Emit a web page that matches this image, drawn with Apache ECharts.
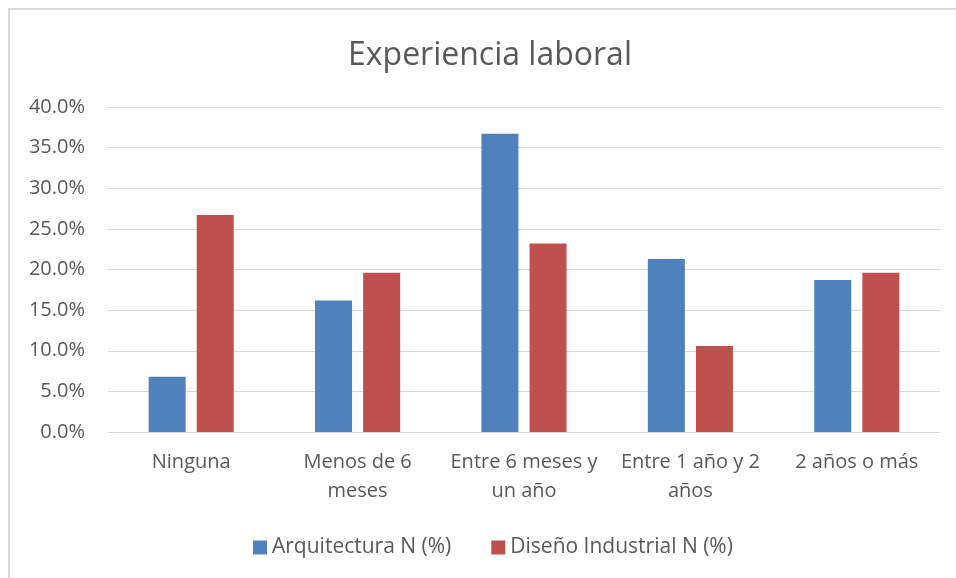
<!DOCTYPE html>
<html>
<head>
<meta charset="utf-8">
<script src="https://cdn.jsdelivr.net/npm/echarts@6/dist/echarts.min.js"></script>
<style>
  html, body { margin: 0; padding: 0; background: #fff; }
  #main { width: 956px; height: 578px; }
</style>
</head>
<body>
<div id="main"></div>
<script>
var categories = ['Ninguna', 'Menos de 6\nmeses', 'Entre 6 meses y\nun año', 'Entre 1 año y 2\naños', '2 años o más']
var arquitectura = [6.8, 16.2, 36.7, 21.3, 18.7]
var disenoIndustrial = [26.7, 19.6, 23.2, 10.6, 19.6]
var seriesNames = ['Arquitectura N (%)', 'Diseño Industrial N (%)']
var colors = ['#4F81BD', '#C0504D']

var myChart = echarts.init(document.getElementById('main'))
var font = '"Open Sans", "Noto Sans", sans-serif'

var option = {
    backgroundColor: '#fff',
    animation: false,
    color: colors,
    textStyle: { fontFamily: font },
    title: {
        text: 'Experiencia laboral',
        left: 485,
        top: 35,
        textAlign: 'center',
        textStyle: { fontFamily: font, fontSize: 32, fontWeight: 'normal', color: '#595959' }
    },
    graphic: [{
        type: 'rect',
        shape: { x: 9, y: 9, width: 1200, height: 1200 },
        style: { fill: 'none', stroke: '#d9d9d9', lineWidth: 2 },
        silent: true
    }],
    legend: {
        data: seriesNames,
        left: 248,
        top: 532,
        itemWidth: 14,
        itemHeight: 14,
        itemGap: 40,
        icon: 'rect',
        textStyle: { fontFamily: font, fontSize: 21, color: '#595959' }
    },
    grid: { left: 108, right: 16, top: 107, bottom: 146 },
    xAxis: {
        type: 'category',
        data: categories,
        axisLine: { lineStyle: { color: '#d9d9d9', width: 1 } },
        axisTick: { show: false },
        axisLabel: { fontFamily: font, fontSize: 20, color: '#595959', lineHeight: 29, margin: 16, interval: 0 }
    },
    yAxis: {
        type: 'value',
        min: 0,
        max: 40,
        interval: 5,
        axisLine: { show: false },
        axisTick: { show: false },
        splitLine: { lineStyle: { color: '#d9d9d9', width: 1 } },
        axisLabel: {
            fontFamily: font, fontSize: 20, color: '#595959', margin: 23,
            formatter: function (v) { return v.toFixed(1) + '%' }
        }
    },
    series: [{
        name: seriesNames[0],
        type: 'bar',
        barWidth: 37,
        barGap: '30%',
        data: arquitectura
    }, {
        name: seriesNames[1],
        type: 'bar',
        barWidth: 37,
        barGap: '30%',
        data: disenoIndustrial
    }]
}
myChart.setOption(option)
</script>
</body>
</html>
